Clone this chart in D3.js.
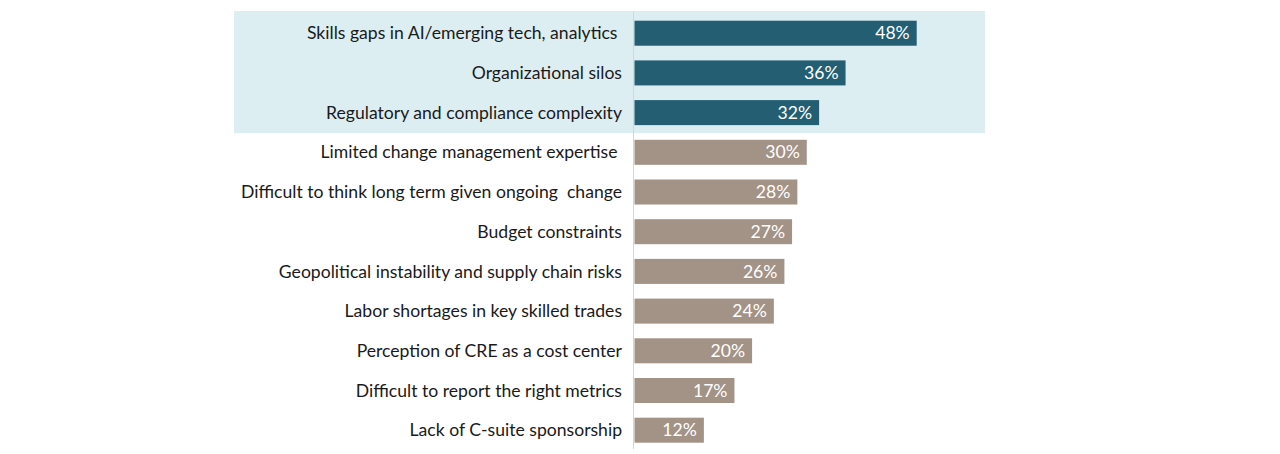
<!DOCTYPE html>
<html>
<head>
<meta charset="utf-8">
<script src="https://cdn.jsdelivr.net/npm/d3@7"></script>
<style>
  html, body { margin: 0; padding: 0; background: #fff; }
  svg { display: block; }
  text { font-family: "Source Sans Pro", Lato, "Noto Sans", sans-serif; }
</style>
</head>
<body>
<svg id="chart" width="1280" height="454"></svg>
<script>
var categories = [
  'Skills gaps in AI/emerging tech, analytics ',
  'Organizational silos',
  'Regulatory and compliance complexity',
  'Limited change management expertise ',
  'Difficult to think long term given ongoing  change',
  'Budget constraints',
  'Geopolitical instability and supply chain risks',
  'Labor shortages in key skilled trades',
  'Perception of CRE as a cost center',
  'Difficult to report the right metrics',
  'Lack of C-suite sponsorship'
];
// bar lengths (unrounded shares)
var values = [48, 35.9, 31.4, 29.3, 27.7, 26.8, 25.5, 23.7, 20, 17, 11.8];
// printed labels
var labels = ['48%', '36%', '32%', '30%', '28%', '27%', '26%', '24%', '20%', '17%', '12%'];
var highlighted = [true, true, true, false, false, false, false, false, false, false, false];

var svg = d3.select('#chart');

var x = d3.scaleLinear()
  .domain([0, 48])
  .range([634.5, 916.7]);

var y = d3.scaleBand()
  .domain(categories)
  .range([14.35, 449.05])
  .paddingInner(0.37)
  .paddingOuter(0.16);

// highlight panel behind the top three
svg.append('rect')
  .attr('x', 234)
  .attr('y', 11)
  .attr('width', 985 - 234)
  .attr('height', 133 - 11)
  .attr('fill', '#ddeef3');

// axis line
svg.append('line')
  .attr('x1', 633.5).attr('x2', 633.5)
  .attr('y1', 11).attr('y2', 449)
  .attr('stroke', '#d6d6d6')
  .attr('stroke-width', 1);

var rows = svg.selectAll('.row')
  .data(categories)
  .enter()
  .append('g')
  .classed('row', true);

rows.append('rect')
  .attr('x', x(0))
  .attr('y', function(d) { return y(d); })
  .attr('width', function(d, i) { return x(values[i]) - x(0); })
  .attr('height', y.bandwidth())
  .attr('fill', function(d, i) { return highlighted[i] ? '#235e72' : '#a39286'; });

rows.append('text')
  .attr('x', 622)
  .attr('y', function(d) { return y(d) + y.bandwidth() / 2; })
  .attr('dy', '0.35em')
  .attr('text-anchor', 'end')
  .attr('font-size', 17.6)
  .attr('fill', '#1a1a1a')
  .style('white-space', 'pre')
  .text(function(d) { return d; });

rows.append('text')
  .attr('x', function(d, i) { return x(values[i]) - 7; })
  .attr('y', function(d) { return y(d) + y.bandwidth() / 2; })
  .attr('dy', '0.35em')
  .attr('text-anchor', 'end')
  .attr('font-size', 17.6)
  .attr('fill', '#ffffff')
  .text(function(d, i) { return labels[i]; });
</script>
</body>
</html>
